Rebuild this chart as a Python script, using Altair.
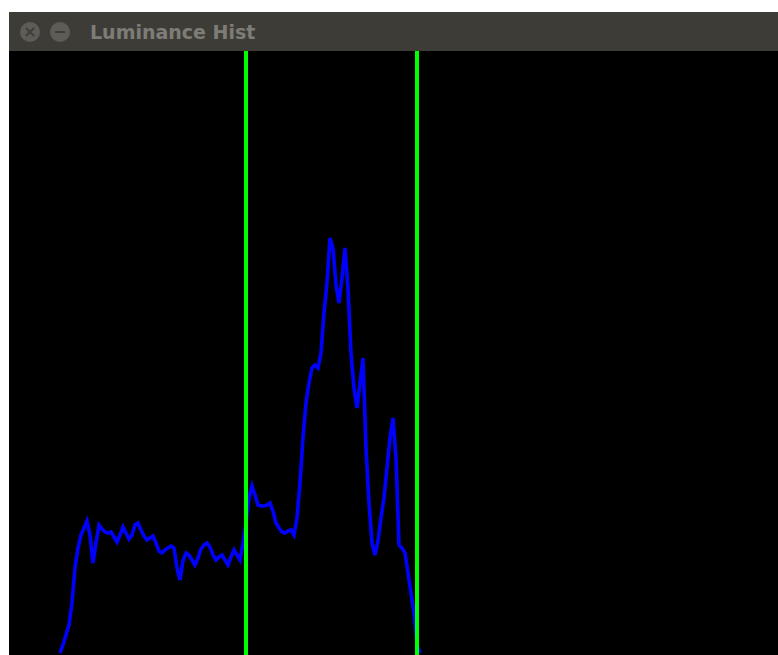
import altair as alt
import pandas as pd

# Histogram bins (0..255) and their plotted heights (pixels of the 604 px canvas)
bins = [17, 18, 19, 20, 21, 22, 23, 24, 25, 26, 27, 28, 29, 30, 31, 32, 33, 34,
        35, 36, 37, 38, 39, 40, 41, 42, 43, 44, 45, 46, 47, 48, 49, 50, 51, 52, 53, 54,
        55, 56, 57, 58, 59, 60, 61, 62, 63, 64, 65, 66, 67, 68, 69, 70, 71, 72, 73, 74,
        75, 76, 77, 78, 79, 80, 81, 82, 83, 84, 85, 86, 87, 88, 89, 90, 91, 92, 93, 94,
        95, 96, 97, 98, 99, 100, 101, 102, 103, 104, 105, 106, 107, 108, 109, 110, 111,
        112, 113, 114, 115, 116, 117, 118, 119, 120, 121, 122, 123, 124, 125, 126, 127,
        128, 129, 130, 131, 132, 133, 134, 135, 136, 137]
counts = [0, 8, 18, 28, 50, 85, 105, 118, 125, 132, 118, 90, 110, 128, 124, 121, 120, 121,
          116, 111, 118, 126, 120, 114, 118, 128, 130, 123, 117, 113, 115, 117, 110, 102, 100, 103, 105, 107,
          105, 85, 73, 92, 100, 98, 93, 88, 95, 104, 108, 110, 106, 98, 93, 96, 98, 93, 88, 96,
          103, 98, 93, 110, 130, 155, 167, 158, 148, 147, 147, 148, 150, 142, 130, 125, 121, 120, 122, 123,
          118, 135, 170, 215, 250, 270, 285, 288, 285, 300, 340, 370, 415, 405, 368, 350, 375,
          405, 365, 300, 265, 245, 270, 295, 205, 150, 110, 98, 112, 135, 155, 185, 215,
          235, 195, 108, 105, 100, 80, 60, 40, 8, 0]

# Threshold markers (bins)
thresholds = [79, 136]

window_title = "Luminance Hist"

df = pd.DataFrame({"bin": bins, "count": counts})
df_thr = pd.DataFrame({"bin": thresholds})

W, H = 769, 604
xs = alt.Scale(domain=[0, 769 / 3], nice=False, zero=False)
ys = alt.Scale(domain=[-2, 602], nice=False, zero=False)

line = alt.Chart(df).mark_line(color="#0000ff", strokeWidth=3.6, clip=True, interpolate="linear").encode(
    x=alt.X("bin:Q", scale=xs, axis=None),
    y=alt.Y("count:Q", scale=ys, axis=None),
)

rules = alt.Chart(df_thr).mark_rule(color="#00ff00", strokeWidth=4).encode(
    x=alt.X("bin:Q", scale=xs, axis=None),
    y=alt.value(0),
    y2=alt.value(H),
)

bar = alt.Chart(pd.DataFrame({"t": [window_title]})).mark_rect(color="#3e3c37", clip=False).encode(
    x=alt.value(0), x2=alt.value(W), y=alt.value(-39), y2=alt.value(0)
)

btns = alt.Chart(pd.DataFrame({"b": ["close", "min"], "px": [21, 51]})).mark_circle(
    color="#5d5c57", opacity=1, size=400, clip=False
).encode(x=alt.X("px:Q", scale=None), y=alt.value(-19))

glyphs = alt.Chart(pd.DataFrame({"g": ["×", "−"], "px": [21, 51]})).mark_text(
    color="#3e3c37", fontSize=16, fontWeight="bold", font="DejaVu Sans", baseline="middle", align="center", clip=False
).encode(x=alt.X("px:Q", scale=None), y=alt.value(-19), text="g:N")

title = alt.Chart(pd.DataFrame({"t": [window_title]})).mark_text(
    color="#7e7c77", fontSize=19, fontWeight="bold", font="DejaVu Sans", align="left", baseline="alphabetic", clip=False
).encode(x=alt.value(81), y=alt.value(-12), text="t:N")

chart = alt.layer(bar, btns, glyphs, title, line, rules).properties(
    width=W, height=H,
    autosize=alt.AutoSizeParams(type="none"),
    padding={"left": 9, "top": 51, "right": 0, "bottom": 0},
    background="#ffffff",
).configure_view(fill="#000000", stroke=None)

chart.save("out.html", embed_options={"renderer": "svg", "actions": False})
